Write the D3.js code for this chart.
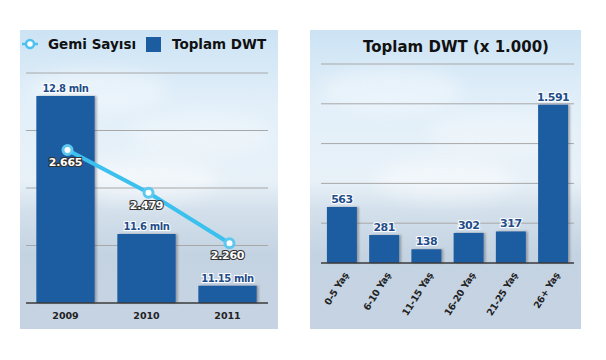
<!DOCTYPE html>
<html><head><meta charset="utf-8">
<script src="https://cdn.jsdelivr.net/npm/d3@7"></script>
<style>body{margin:0;background:#fff}svg{display:block}</style>
</head><body>
<svg id="c" width="606" height="360"></svg>
<script>
const years = ["2009","2010","2011"];
const dwtMln = [12.8, 11.6, 11.15];
const dwtLabels = ["12.8 mln","11.6 mln","11.15 mln"];
const shipCount = [2665, 2479, 2260];
const shipLabels = ["2.665","2.479","2.260"];
const leftTicks = [11, 11.5, 12, 12.5, 13];

const ageGroups = ["0-5 Yaş","6-10 Yaş","11-15 Yaş","16-20 Yaş","21-25 Yaş","26+ Yaş"];
const ageDwt = [563, 281, 138, 302, 317, 1591];
const rightTicks = [0, 400, 800, 1200, 1600, 2000];

const svg = d3.select("#c");
const defs = svg.append("defs");
const bg = defs.append("linearGradient").attr("id","bg").attr("x1",0).attr("y1",0).attr("x2",0).attr("y2",1);
[[0,"#cce3f4"],[0.25,"#e2eff9"],[0.5,"#e8f1f8"],[0.6,"#d4e1ec"],[0.75,"#c4d3e2"],[1,"#c6d3e2"]]
  .forEach(([o,c])=>bg.append("stop").attr("offset",o).attr("stop-color",c));
const sh = defs.append("filter").attr("id","sh").attr("x","-20%").attr("y","-20%").attr("width","150%").attr("height","140%");
sh.append("feDropShadow").attr("dx",2).attr("dy",0).attr("stdDeviation",1).attr("flood-color","#555").attr("flood-opacity",0.45);
const blur = defs.append("filter").attr("id","bl").attr("x","-50%").attr("y","-50%").attr("width","200%").attr("height","200%");
blur.append("feGaussianBlur").attr("stdDeviation",8);

const FONT = "DejaVu Sans, Verdana, sans-serif";
const barColor = "#1c5da2";

function panel(x0, x1, y0, y1){
  const g = svg.append("g");
  g.append("rect").attr("x",x0).attr("y",y0).attr("width",x1-x0).attr("height",y1-y0).attr("fill","url(#bg)");
  const clip = "cl"+x0;
  defs.append("clipPath").attr("id",clip).append("rect").attr("x",x0).attr("y",y0).attr("width",x1-x0).attr("height",y1-y0);
  const cg = g.append("g").attr("clip-path",`url(#${clip})`);
  [[0.3,0.2,0.35],[0.7,0.35,0.3],[0.5,0.5,0.4]].forEach(([fx,fy,op])=>{
    cg.append("ellipse").attr("cx",x0+(x1-x0)*fx).attr("cy",y0+(y1-y0)*fy).attr("rx",70).attr("ry",22)
      .attr("fill","#fff").attr("opacity",op).attr("filter","url(#bl)");
  });
  return g;
}

// ---------- Left panel ----------
panel(20, 278, 30, 329);
const xL = d3.scaleBand().domain(years).range([25, 268]).paddingInner(0.28).paddingOuter(0.14);
const yL = d3.scaleLinear().domain([11, 13]).range([303, 73]);
const y2 = d3.scaleLinear().domain([2000, 3000]).range([303, 73]);

const gl = svg.append("g");
gl.selectAll("line.g").data(leftTicks.slice(1)).join("line")
  .attr("x1",26).attr("x2",268).attr("y1",d=>yL(d)).attr("y2",d=>yL(d))
  .attr("stroke","#a8a8a8").attr("stroke-width",1);
gl.selectAll("rect.b").data(dwtMln).join("rect")
  .attr("x",(d,i)=>xL(years[i])).attr("width",xL.bandwidth())
  .attr("y",d=>yL(d)).attr("height",d=>303-yL(d))
  .attr("fill",barColor).attr("filter","url(#sh)");
gl.append("line").attr("x1",26).attr("x2",268).attr("y1",303).attr("y2",303).attr("stroke","#3a3a3a").attr("stroke-width",1.5);
gl.selectAll("text.v").data(dwtMln).join("text")
  .attr("x",(d,i)=>xL(years[i])+xL.bandwidth()/2).attr("y",d=>yL(d)-4)
  .attr("text-anchor","middle").attr("font-family",FONT).attr("font-weight","bold").attr("font-size",10)
  .attr("fill","#1e4d8a").attr("stroke","#fff").attr("stroke-width",2).attr("paint-order","stroke")
  .attr("letter-spacing",-0.4)
  .text((d,i)=>dwtLabels[i]);
gl.selectAll("text.x").data(years).join("text")
  .attr("x",d=>xL(d)+xL.bandwidth()/2).attr("y",319)
  .attr("text-anchor","middle").attr("font-family",FONT).attr("font-weight","bold").attr("font-size",9.5)
  .attr("fill","#222").text(d=>d);

const line = d3.line().x((d,i)=>xL(years[i])+xL.bandwidth()/2+2).y(d=>y2(d));
gl.append("path").datum(shipCount).attr("d",line).attr("fill","none").attr("stroke","#3cc0ee").attr("stroke-width",4);
gl.selectAll("circle.p").data(shipCount).join("circle")
  .attr("cx",(d,i)=>xL(years[i])+xL.bandwidth()/2+2).attr("cy",d=>y2(d)).attr("r",4.5)
  .attr("fill","#fff").attr("stroke","#5cc8f0").attr("stroke-width",3);
gl.selectAll("text.s").data(shipCount).join("text")
  .attr("x",(d,i)=>xL(years[i])+xL.bandwidth()/2).attr("y",d=>y2(d)+16)
  .attr("text-anchor","middle").attr("font-family",FONT).attr("font-weight","bold").attr("font-size",11)
  .attr("fill","#fff").attr("stroke","#333").attr("stroke-width",2.2).attr("paint-order","stroke")
  .attr("letter-spacing",-0.3)
  .text((d,i)=>shipLabels[i]);

// legend
const lg = svg.append("g");
lg.append("circle").attr("cx",30).attr("cy",44).attr("r",4).attr("fill","#fff").attr("stroke","#4cc2f0").attr("stroke-width",2.5);
lg.append("line").attr("x1",22).attr("x2",25.5).attr("y1",44).attr("y2",44).attr("stroke","#4cc2f0").attr("stroke-width",2.5);
lg.append("line").attr("x1",34.5).attr("x2",38).attr("y1",44).attr("y2",44).attr("stroke","#4cc2f0").attr("stroke-width",2.5);
lg.append("text").attr("x",48).attr("y",49).attr("font-family",FONT).attr("font-weight","bold").attr("font-size",13.5)
  .attr("fill","#111").text("Gemi Sayısı");
lg.append("rect").attr("x",146).attr("y",37).attr("width",15).attr("height",15).attr("fill",barColor);
lg.append("text").attr("x",172).attr("y",49).attr("font-family",FONT).attr("font-weight","bold").attr("font-size",13.5)
  .attr("fill","#111").text("Toplam DWT");

// ---------- Right panel ----------
panel(310, 581, 30, 329);
const xR = d3.scaleBand().domain(ageGroups).range([321, 574]).paddingInner(0.29).paddingOuter(0.14);
const yR = d3.scaleLinear().domain([0, 2000]).range([263, 64]);
const gr = svg.append("g");
gr.append("text").attr("x",456).attr("y",52).attr("text-anchor","middle").attr("font-family",FONT)
  .attr("font-weight","bold").attr("font-size",15).attr("fill","#111").text("Toplam DWT (x 1.000)");
gr.selectAll("line.g").data(rightTicks.slice(1)).join("line")
  .attr("x1",321).attr("x2",574).attr("y1",d=>yR(d)).attr("y2",d=>yR(d))
  .attr("stroke","#a8a8a8").attr("stroke-width",1);
gr.selectAll("rect.b").data(ageDwt).join("rect")
  .attr("x",(d,i)=>xR(ageGroups[i])).attr("width",xR.bandwidth())
  .attr("y",d=>yR(d)).attr("height",d=>263-yR(d))
  .attr("fill",barColor).attr("filter","url(#sh)");
gr.append("line").attr("x1",321).attr("x2",574).attr("y1",263).attr("y2",263).attr("stroke","#3a3a3a").attr("stroke-width",1.5);
gr.selectAll("text.v").data(ageDwt).join("text")
  .attr("x",(d,i)=>xR(ageGroups[i])+xR.bandwidth()/2).attr("y",d=>yR(d)-4)
  .attr("text-anchor","middle").attr("font-family",FONT).attr("font-weight","bold").attr("font-size",11)
  .attr("fill","#1e4d8a").attr("stroke","#fff").attr("stroke-width",2).attr("paint-order","stroke")
  .attr("letter-spacing",-0.5)
  .text(d=>d3.format(",")(d).replace(",", "."));
gr.selectAll("text.x").data(ageGroups).join("text")
  .attr("transform",(d)=>`translate(${xR(d)+xR.bandwidth()/2+7},${275}) rotate(-58)`)
  .attr("text-anchor","end").attr("font-family",FONT).attr("font-weight","bold").attr("font-size",9.5)
  .attr("letter-spacing",-0.3)
  .attr("fill","#222").text(d=>d);
</script>
</body></html>
